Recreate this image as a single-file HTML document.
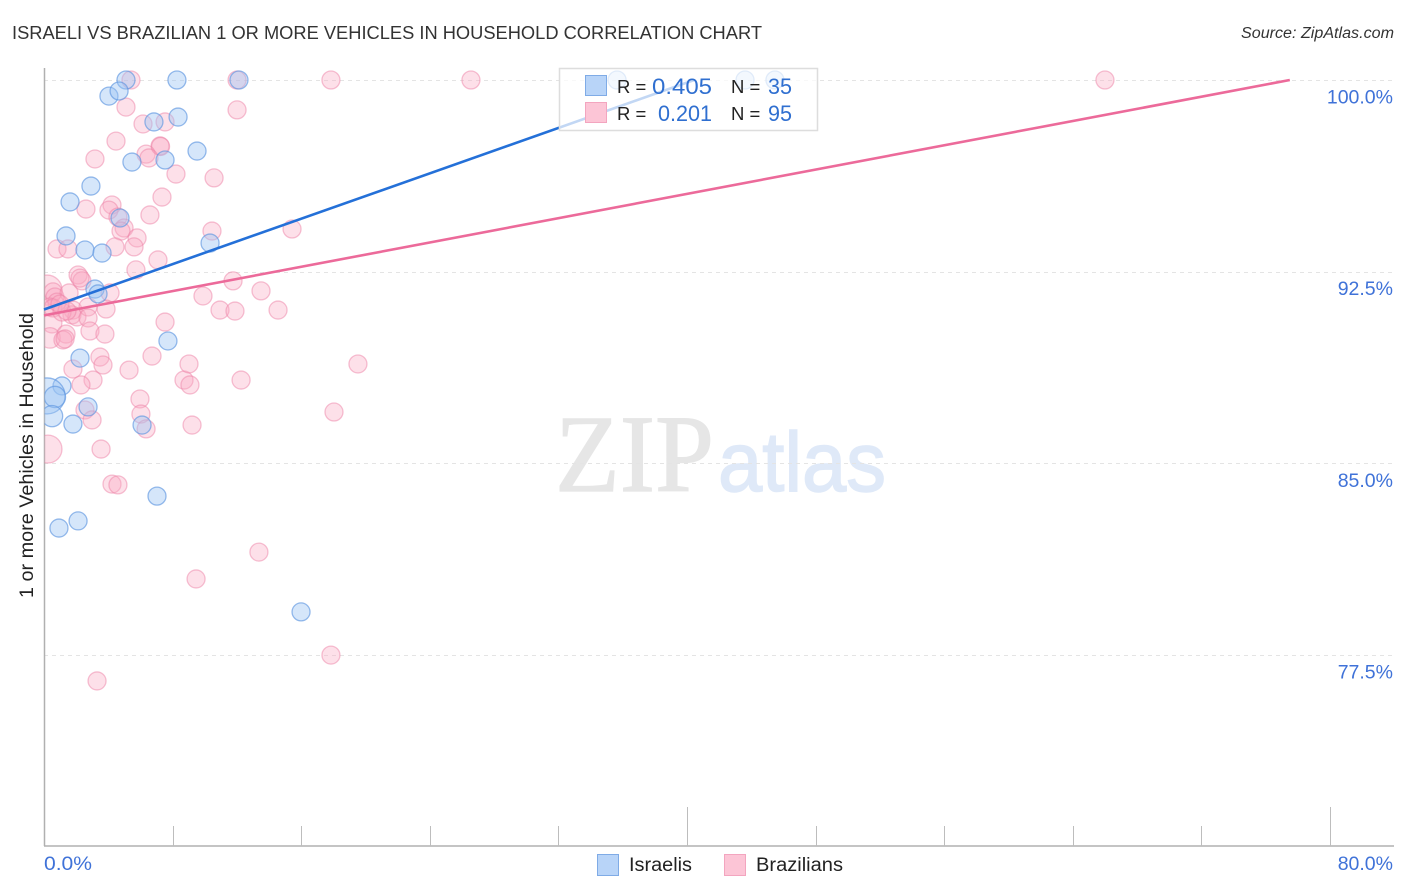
<!DOCTYPE html>
<html lang="en">
<head>
<meta charset="utf-8">
<title>Israeli vs Brazilian 1 or more Vehicles in Household Correlation Chart</title>
<style>
html,body{margin:0;padding:0;background:#fff;}
svg{display:block;font-family:"Liberation Sans",sans-serif;}
</style>
</head>
<body>
<svg id="chart" xmlns="http://www.w3.org/2000/svg" width="1406" height="892" viewBox="0 0 1406 892">
<defs><clipPath id="plot-clip"><rect x="44.5" y="60" width="1350" height="786"></rect></clipPath></defs>
<rect x="0" y="0" width="1406" height="892" fill="#fff"></rect>
<text x="12" y="39" font-size="18.5" fill="#333" textLength="750" lengthAdjust="spacingAndGlyphs">ISRAELI VS BRAZILIAN 1 OR MORE VEHICLES IN HOUSEHOLD CORRELATION CHART</text>
<text x="1394" y="38" font-size="15.5" font-style="italic" fill="#333" text-anchor="end" textLength="153" lengthAdjust="spacingAndGlyphs">Source: ZipAtlas.com</text>
<text transform="translate(33,598) rotate(-90)" font-size="19" fill="#222" textLength="285" lengthAdjust="spacingAndGlyphs">1 or more Vehicles in Household</text>
<text x="555" y="491" font-family="'Liberation Serif',serif" font-size="110" fill="#e6e6e6" stroke="#e6e6e6" stroke-width="1.2" textLength="159" lengthAdjust="spacingAndGlyphs">ZIP</text>
<text x="718" y="491" font-size="84" fill="#dfe9f8" stroke="#dfe9f8" stroke-width="1.5" textLength="168" lengthAdjust="spacingAndGlyphs">atlas</text>
<g id="grid"></g>
<g id="axes"></g>
<g id="points" clip-path="url(#plot-clip)"></g>
<g id="lines"></g>
<g>
<rect x="559.5" y="68.5" width="258" height="62" fill="#fff" fill-opacity="0.72" stroke="#ddd" stroke-width="1.5"></rect>
<rect x="585.5" y="75.5" width="21" height="20" fill="#b8d4f8" stroke="#7fabe6"></rect>
<rect x="585.5" y="102.5" width="21" height="20" fill="#fcc5d6" stroke="#f3a5bf"></rect>
<text x="617" y="93" font-size="18.5" fill="#222">R =</text>
<text x="652" y="94" font-size="22" fill="#2f6fd0" textLength="60" lengthAdjust="spacingAndGlyphs">0.405</text>
<text x="731" y="93" font-size="18.5" fill="#222">N =</text>
<text x="768" y="94" font-size="22" fill="#2f6fd0" textLength="24" lengthAdjust="spacingAndGlyphs">35</text>
<text x="617" y="120" font-size="18.5" fill="#222">R =</text>
<text x="658" y="121" font-size="22" fill="#2f6fd0" textLength="54" lengthAdjust="spacingAndGlyphs">0.201</text>
<text x="731" y="120" font-size="18.5" fill="#222">N =</text>
<text x="768" y="121" font-size="22" fill="#2f6fd0" textLength="24" lengthAdjust="spacingAndGlyphs">95</text>
</g>
<g>
<rect x="597.5" y="854.5" width="21" height="21" fill="#b8d4f8" stroke="#7fabe6"></rect>
<text x="629" y="871" font-size="19" fill="#222" textLength="63" lengthAdjust="spacingAndGlyphs">Israelis</text>
<rect x="724.5" y="854.5" width="21" height="21" fill="#fcc5d6" stroke="#f3a5bf"></rect>
<text x="756" y="871" font-size="19" fill="#222" textLength="87" lengthAdjust="spacingAndGlyphs">Brazilians</text>
</g>
</svg>
<script>
const yTickValues = [100, 92.5, 85, 77.5];
const yTickLabels = ["100.0%", "92.5%", "85.0%", "77.5%"];
const xTickValues = [8, 16, 24, 32, 40, 48, 56, 64, 72, 80];
const xMajorTicks = [40, 80];
const xEndValues = [0, 80];
const xEndLabels = ["0.0%", "80.0%"];

const israeliX = [5.10,8.27,12.13,35.65,43.61,45.47,4.04,4.67,8.34,6.84,9.52,5.47,7.53,2.92,1.62,4.73,1.37,10.33,2.55,3.61,3.17,3.36,7.71,2.24,1.12,0.19,0.68,0.50,2.74,1.80,6.10,7.03,2.12,0.93,15.99];
const israeliY = [100,100,100,100,100,100,99.37,99.57,98.55,98.36,97.22,96.79,96.87,95.85,95.23,94.60,93.90,93.62,93.35,93.23,91.82,91.63,89.79,89.12,88.03,87.64,87.60,86.85,87.21,86.54,86.50,83.72,82.75,82.47,79.19];
const israeliWeight = [1,1,1,1,1,1,1,1,1,1,1,1,1,1,1,1,1,1,1,1,1,1,1,1,1,4,1.4,1.4,1,1,1,1,1,1,1];

const brazilianX = [5.41,12.01,17.85,26.56,66.00,12.01,5.10,4.48,6.16,7.53,7.22,7.25,6.35,6.53,3.17,8.21,10.58,7.34,2.61,4.23,4.04,6.59,4.60,4.98,4.79,10.45,15.43,5.79,4.42,5.60,0.81,1.49,7.09,5.72,2.12,2.36,2.24,11.76,13.50,9.89,4.11,14.56,10.95,11.88,7.53,0.19,0.56,0.68,1.56,0.81,0.37,0.56,1.80,1.74,2.05,2.74,3.86,2.74,2.86,3.79,0.50,0.37,1.37,1.18,1.31,1.12,1.43,3.48,6.72,3.67,5.29,1.80,3.05,2.30,8.71,9.08,12.26,9.02,19.53,5.97,2.55,2.99,6.03,6.35,9.21,18.04,3.55,0.25,4.23,4.60,13.37,9.46,17.85,3.30,0.99];
const brazilianY = [100,100,100,100,100,98.83,98.94,97.61,98.28,98.36,97.42,97.40,97.10,96.95,96.91,96.32,96.17,95.42,94.95,95.11,94.91,94.72,94.64,94.21,94.09,94.09,94.17,93.82,93.47,93.47,93.39,93.39,92.96,92.57,92.37,92.14,92.25,92.14,91.75,91.55,91.67,91.00,91.00,90.96,90.53,91.78,91.71,91.51,91.67,91.31,91.12,91.08,91.00,90.81,90.73,91.12,91.04,90.69,90.18,90.06,90.49,89.91,90.06,89.83,89.87,90.92,90.96,89.16,89.20,88.85,88.65,88.69,88.26,88.07,88.26,88.07,88.26,88.89,88.89,87.52,87.09,86.70,86.93,86.35,86.50,87.01,85.56,85.56,84.19,84.16,81.53,80.48,77.50,76.49,91.23];
const brazilianWeight = [1,1,1,1,1,1,1,1,1,1,1,1,1,1,1,1,1,1,1,1,1,1,1,1,1,1,1,1,1,1,1,1,1,1,1,1,1,1,1,1,1,1,1,1,1,2.8,1,1,1,1,1,1,1,1,1,1,1,1,1,1,1.2,1.3,1,1,1,1,1,1,1,1,1,1,1,1,1,1,1,1,1,1,1,1,1,1,1,1,1,2.4,1,1,1,1,1,1,1];

const israeliTrendX = [0, 40.45];
const israeliTrendY = [91.02, 100];
const brazilianTrendX = [0, 77.5];
const brazilianTrendY = [90.79, 100];

const NS = "http://www.w3.org/2000/svg";
function xScale(v) { return 44 + v * 16.075; }
function yScale(v) { return 80 + (100 - v) * 25.56; }
function radius(w) { return 9 * Math.sqrt(w); }
function make(tag, attrs, parent) {
  const el = document.createElementNS(NS, tag);
  for (const k in attrs) el.setAttribute(k, attrs[k]);
  parent.appendChild(el);
  return el;
}

const grid = document.getElementById("grid");
const axes = document.getElementById("axes");
const points = document.getElementById("points");
const lines = document.getElementById("lines");

yTickValues.forEach(function (v, i) {
  const line = make("line", {x1: 44, x2: 1394, y1: Math.round(yScale(v)) + 0.5, y2: Math.round(yScale(v)) + 0.5, stroke: "#e4e4e4", "stroke-width": 1, "stroke-dasharray": "4 4"}, grid);
  
  
  const label = make("text", {x: 1393, y: yScale(v) + 23.5, "font-size": 19.5, fill: "#3f72d8", "text-anchor": "end"}, axes);
  
  
  label.textContent = yTickLabels[i];
});

const yAxis = make("line", {x1: 44.5, x2: 44.5, y1: 68, y2: 846, stroke: "#b0b0b0", "stroke-width": 1.5}, axes);


const xAxis = make("line", {x1: 44, x2: 1394, y1: 846, y2: 846, stroke: "#b0b0b0", "stroke-width": 1.5}, axes);



xTickValues.forEach(function (v) {
  const major = xMajorTicks.indexOf(v) >= 0;
  const tick = make("line", {x1: Math.round(xScale(v)) + 0.5, x2: Math.round(xScale(v)) + 0.5, y1: major ? 807 : 826, y2: 846, stroke: "#bdbdbd", "stroke-width": 1}, axes);
  
  
});

xEndValues.forEach(function (v, i) {
  const label = make("text", {x: i === 0 ? xScale(v) : 1393, y: 870, "font-size": 19.5, fill: "#3f72d8", "text-anchor": i === 0 ? "start" : "end"}, axes);
  
  
  if (i === 0) {
    label.setAttribute('textLength', '48');
    label.setAttribute('lengthAdjust', 'spacingAndGlyphs');
  }
  label.textContent = xEndLabels[i];
});

brazilianX.forEach(function (v, i) {
  const c = make("circle", {cx: xScale(v), cy: yScale(brazilianY[i]), r: radius(brazilianWeight[i]), fill: "#f9a8c2", "fill-opacity": 0.36, stroke: "#ee84a8", "stroke-opacity": 0.5, "stroke-width": 1.3}, points);
  
  
});

israeliX.forEach(function (v, i) {
  const c = make("circle", {cx: xScale(v), cy: yScale(israeliY[i]), r: radius(israeliWeight[i]), fill: "#9cc4f4", "fill-opacity": 0.42, stroke: "#5f96e0", "stroke-opacity": 0.65, "stroke-width": 1.3}, points);
  
  
});

const israeliLine = make("line", {x1: xScale(israeliTrendX[0]), y1: yScale(israeliTrendY[0]), x2: xScale(israeliTrendX[1]), y2: yScale(israeliTrendY[1]), stroke: "#2470d8", "stroke-width": 2.6}, lines);


const brazilianLine = make("line", {x1: xScale(brazilianTrendX[0]), y1: yScale(brazilianTrendY[0]), x2: xScale(brazilianTrendX[1]), y2: yScale(brazilianTrendY[1]), stroke: "#ec6a9a", "stroke-width": 2.6}, lines);


</script>
</body>
</html>
